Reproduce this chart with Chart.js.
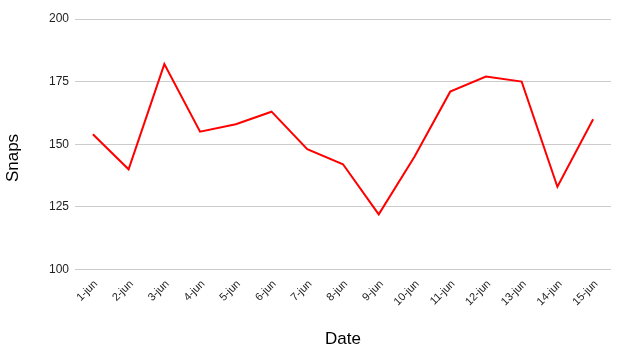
<!DOCTYPE html>
<html>
<head>
<meta charset="utf-8">
<script src="https://cdn.jsdelivr.net/npm/chart.js@4"></script>
<style>
  html, body { margin: 0; padding: 0; background: #fff; }
  #wrap { width: 620px; height: 350px; position: relative; }
</style>
</head>
<body>
<div id="wrap"><canvas id="c" width="620" height="350"></canvas></div>
<script>
const categories = ["1-jun","2-jun","3-jun","4-jun","5-jun","6-jun","7-jun","8-jun","9-jun","10-jun","11-jun","12-jun","13-jun","14-jun","15-jun"];
const snaps = [154, 140, 182, 155, 158, 163, 148, 142, 122, 145, 171, 177, 175, 133, 160];
const yTicks = [100, 125, 150, 175, 200];
const xTitle = "Date";
const yTitle = "Snaps";

const FONT = "Arial, 'Liberation Sans', sans-serif";

const titlesPlugin = {
  id: 'axisTitles',
  afterDraw(chart) {
    const ctx = chart.ctx;
    const area = chart.chartArea;
    ctx.save();
    ctx.fillStyle = '#000';
    ctx.font = '17px ' + FONT;
    ctx.textAlign = 'center';
    ctx.textBaseline = 'middle';
    ctx.fillText(xTitle, (area.left + area.right) / 2, 339);
    ctx.translate(13, 158);
    ctx.rotate(-Math.PI / 2);
    ctx.fillText(yTitle, 0, 0);
    ctx.restore();
  }
};

new Chart(document.getElementById('c'), {
  type: 'line',
  data: {
    labels: categories,
    datasets: [{
      data: snaps,
      borderColor: '#ff0000',
      borderWidth: 2,
      pointRadius: 0,
      tension: 0,
      fill: false
    }]
  },
  options: {
    responsive: false,
    devicePixelRatio: 1,
    animation: false,
    layout: { padding: { left: 0, right: 9, top: 19, bottom: 0 } },
    plugins: { legend: { display: false }, tooltip: { enabled: false } },
    scales: {
      x: {
        offset: true,
        grid: { display: false },
        border: { display: false },
        ticks: {
          maxRotation: 45, minRotation: 45,
          autoSkip: false,
          color: '#222',
          padding: 0,
          labelOffset: 3,
          font: { family: FONT, size: 11 }
        },
        afterFit(scale) { scale.height = 80.5; }
      },
      y: {
        min: yTicks[0],
        max: yTicks[yTicks.length - 1],
        afterBuildTicks(scale) { scale.ticks = yTicks.map(v => ({ value: v })); },
        grid: { color: '#cccccc', lineWidth: 1, drawTicks: false },
        border: { display: false },
        ticks: {
          color: '#222',
          padding: 6,
          font: { family: FONT, size: 12 }
        },
        afterFit(scale) { scale.width = 75; }
      }
    }
  },
  plugins: [titlesPlugin]
});
</script>
</body>
</html>
